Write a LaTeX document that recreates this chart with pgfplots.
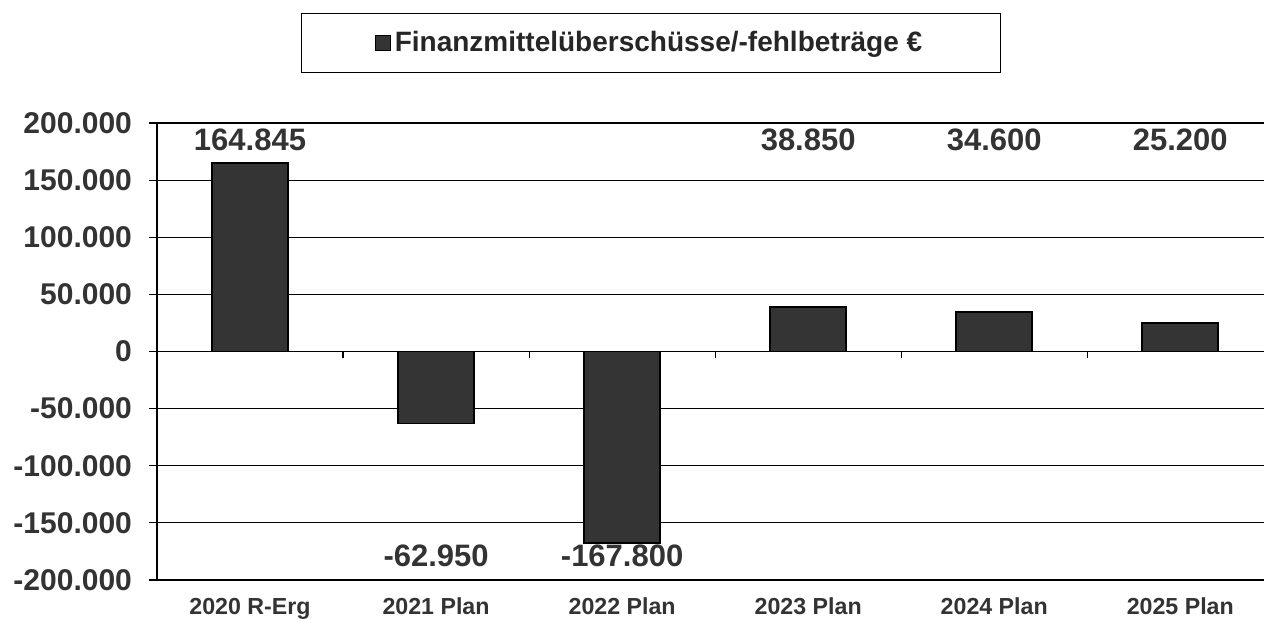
\documentclass[border=0pt]{standalone}
\usepackage{pgfplots}
\pgfplotsset{compat=1.18}
\usepackage{fontspec}
\setmainfont{Liberation Sans}
\definecolor{barcol}{RGB}{52,52,52}
\begin{document}
\begin{tikzpicture}
\useasboundingbox (-78.5pt,-19.5pt) rectangle (553.5pt,290pt);
\begin{axis}[
  at={(0,0)}, anchor=south west,
  scale only axis, width=553.5pt, height=228.5pt,
  xmin=-0.5, xmax=5.45, ymin=-200000, ymax=200000,
  axis y line*=left, axis x line*=bottom,
  axis line style={black, line width=0.8pt},
  scaled y ticks=false,
  ytick={-200000,-150000,...,200000},
  yticklabels={-200.000,-150.000,-100.000,-50.000,0,50.000,100.000,150.000,200.000},
  yticklabel style={font=\fontsize{15}{18}\selectfont\bfseries, text=black!80, xshift=-5pt},
  tick align=outside, major tick length=4pt,
  ytick style={black, line width=0.6pt},
  xtick={0,...,5},
  xticklabels={2020 R-Erg,2021 Plan,2022 Plan,2023 Plan,2024 Plan,2025 Plan},
  xticklabel style={font=\fontsize{11.6}{14}\selectfont\bfseries, text=black!80, yshift=-1.5pt},
  xtick style={draw=none},
  ymajorgrids, grid style={black, line width=0.6pt},
  legend style={at={(0.446,1)}, anchor=south, yshift=25pt, draw=black, line width=0.5pt,
    inner xsep=37pt, inner ysep=7pt,
    font=\fontsize{14}{17}\selectfont\bfseries, text=black!85},
  legend image code/.code={\draw[fill=barcol, draw=black, line width=0.3pt] (0pt,-3.5pt) rectangle (7.5pt,4pt);},
  clip=false,
]
\addplot[ybar, bar width=38pt, fill=barcol, draw=black, line width=0.8pt]
  coordinates {(0,164845) (1,-62950) (2,-167800) (3,38850) (4,34600) (5,25200)};
\addlegendentry{Finanzmittelüberschüsse/-fehlbeträge €}
\addplot[draw=none, mark=none, forget plot, nodes near coords, point meta=explicit symbolic,
  every node near coord/.append style={font=\fontsize{15.5}{18}\selectfont\bfseries, text=black!80, anchor=center}]
  coordinates {(0,185000)[164.845] (1,-178600)[-62.950] (2,-178600)[-167.800] (3,185000)[38.850] (4,185000)[34.600] (5,185000)[25.200]};
\pgfplotsinvokeforeach{0.5,1.5,2.5,3.5,4.5}{
  \draw[black, line width=0.6pt] (axis cs:#1,0) -- ++(0pt,-3.5pt);
}
\end{axis}
\end{tikzpicture}
\end{document}
